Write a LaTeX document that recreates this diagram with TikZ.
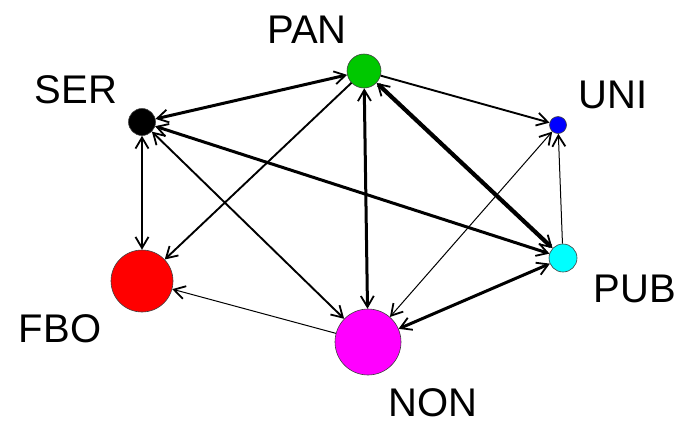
\documentclass[tikz,border=0pt]{standalone}
\usepackage{fontspec}
\setmainfont{Liberation Sans}
\usetikzlibrary{arrows.meta}
\begin{document}
\begin{tikzpicture}[x=1pt,y=-1pt,
  vtx/.style={circle,draw=black!75,line width=0.6pt,inner sep=0pt},
  lbl/.style={font=\fontsize{40}{40}\selectfont,inner sep=0pt,anchor=base},
  >={Straight Barb[length=11pt,width=13pt,line width=1.8pt]},
  e1/.style={line width=1pt},
  e2/.style={line width=1.9pt},
  e3/.style={line width=3pt},
  e4/.style={line width=4.2pt}]
\useasboundingbox (0,0) rectangle (691,424);
\fill[white] (0,0) rectangle (691,424);
\definecolor{pangreen}{RGB}{0,200,0}
\definecolor{unblue}{RGB}{0,0,255}
\definecolor{pubcyan}{RGB}{0,255,255}
\definecolor{fbored}{RGB}{255,0,0}
\definecolor{nonmag}{RGB}{255,0,255}
% vertices
\node[vtx,fill=pangreen,minimum size=34pt] (PAN) at (364,71) {};
\node[vtx,fill=black,minimum size=27pt] (SER) at (142,122) {};
\node[vtx,fill=unblue,minimum size=17pt] (UNI) at (558,125) {};
\node[vtx,fill=pubcyan,minimum size=28pt] (PUB) at (563,258) {};
\node[vtx,fill=fbored,minimum size=62pt] (FBO) at (142,281) {};
\node[vtx,fill=nonmag,minimum size=66pt] (NON) at (368,342) {};
% labels
\node[lbl] (lPAN) at (307,43) {PAN};
\node[lbl] (lSER) at (76,103) {SER};
\node[lbl] (lUNI) at (613,108) {UNI};
\node[lbl] (lPUB) at (635,302) {PUB};
\node[lbl] (lFBO) at (60,342) {FBO};
\node[lbl] (lNON) at (433,416) {NON};
% edges
\draw[e3,<->] (SER) -- (PAN);
\draw[e2,<->] (SER) -- (FBO);
\draw[e2,<->] (SER) -- (NON);
\draw[e3,<->] (SER) -- (PUB);
\draw[e2,->] (PAN) -- (FBO);
\draw[e3,<->] (PAN) -- (NON);
\draw[e4,<->] (PAN) -- (PUB);
\draw[e2,->] (PAN) -- (UNI);
\draw[e1,<->] (NON) -- (UNI);
\draw[e1,->] (PUB) -- (UNI);
\draw[e1,->] (NON) -- (FBO);
\draw[e3,<->] (PUB) -- (NON);
\end{tikzpicture}
\end{document}
